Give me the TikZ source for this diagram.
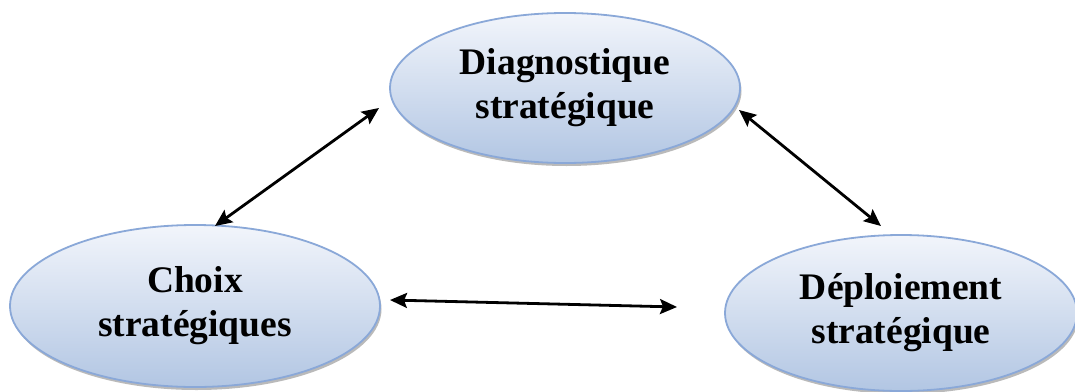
\documentclass[tikz,border=0pt]{standalone}
\usepackage{fontspec}
\setmainfont{Liberation Serif}
\usetikzlibrary{shapes.geometric,shadows,arrows.meta}
\definecolor{rim}{HTML}{8AA8D8}
\definecolor{topfill}{HTML}{F2F5FB}
\definecolor{botfill}{HTML}{B2C6E3}
\tikzset{
  phase/.style={ellipse, draw=rim, line width=1.8pt,
    top color=topfill, bottom color=botfill,
    drop shadow={shadow xshift=1.5pt, shadow yshift=-3pt, fill=black!45, opacity=0.6},
    inner sep=0pt, align=center,
    font=\fontsize{37.5}{44}\selectfont\bfseries},
  tip/.tip={Stealth[length=17pt,width=15pt,inset=3pt]},
  link/.style={tip-tip, line width=2.8pt, black}
}
\begin{document}
\begin{tikzpicture}[x=1pt,y=-1pt]
\useasboundingbox[fill=white] (0,0) rectangle (1075,391);
\node[phase, minimum width=350pt, minimum height=150pt] (diag) at (565,88) {Diagnostique\\stratégique};
\node[phase, minimum width=370pt, minimum height=162pt] (choix) at (195,306) {Choix\\stratégiques};
\node[phase, minimum width=352pt, minimum height=156pt] (depl) at (901,313) {Déploiement\\stratégique};
\coordinate (a1) at (215,226);
\coordinate (a2) at (379,108);
\coordinate (b1) at (739,110);
\coordinate (b2) at (881,226);
\coordinate (c1) at (390,300);
\coordinate (c2) at (677,307);
\draw[link] (a1) -- (a2);
\draw[link] (b1) -- (b2);
\draw[link] (c1) -- (c2);
\end{tikzpicture}
\end{document}
